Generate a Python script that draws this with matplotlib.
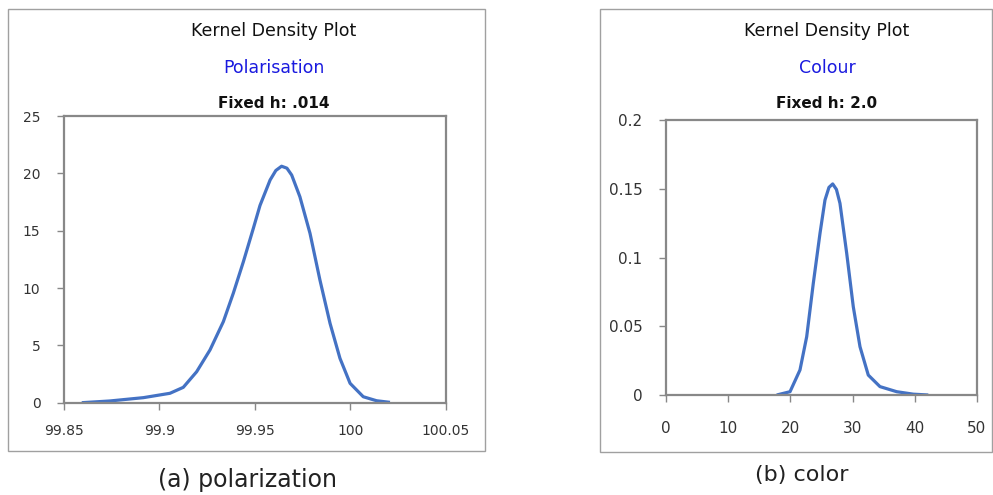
import matplotlib
matplotlib.use("Agg")
import matplotlib.pyplot as plt
from matplotlib.patches import Rectangle

# Polarisation density curve
pol_x = [99.8593, 99.874, 99.8916, 99.9055, 99.9125, 99.9195, 99.9265,
         99.9335, 99.9387, 99.944, 99.9492, 99.9527, 99.958, 99.961,
         99.964, 99.9668, 99.9693, 99.9736, 99.9789, 99.9841, 99.9894,
         99.9946, 99.9999, 100.0068, 100.0138, 100.0208]
pol_y = [0.0, 0.15, 0.44, 0.82, 1.34, 2.70, 4.60,
         7.07, 9.54, 12.30, 15.2, 17.2, 19.42, 20.25,
         20.62, 20.45, 19.85, 17.96, 14.77, 10.70, 6.92,
         3.87, 1.69, 0.52, 0.17, 0.03]

# Colour density curve
col_x = [17.8, 19.94, 21.54, 22.62, 23.68, 24.76, 25.56, 26.2, 26.8, 27.4,
         27.97, 29.05, 30.11, 31.19, 32.52, 34.4, 37.09, 39.76, 42.17]
col_y = [0.0, 0.0024, 0.0182, 0.0424, 0.0812, 0.1176, 0.1418, 0.1510, 0.1535,
         0.1495, 0.1394, 0.1031, 0.0642, 0.0351, 0.0145, 0.0061, 0.0024,
         0.0006, 0.0]

pol_xticks = [99.85, 99.9, 99.95, 100, 100.05]
pol_xlabels = ["99.85", "99.9", "99.95", "100", "100.05"]
pol_yticks = [0, 5, 10, 15, 20, 25]
col_xticks = [0, 10, 20, 30, 40, 50]
col_yticks = [0, 0.05, 0.1, 0.15, 0.2]
col_ylabels = ["0", "0.05", "0.1", "0.15", "0.2"]

line_color = "#4472C4"
gray = "#888888"

fig = plt.figure(figsize=(9.93, 4.95), dpi=100)
W, H = 993.0, 495.0

# outer frames
fig.patches.append(Rectangle((7.5 / W, 44 / H), 477.5 / W, 442 / H,
                             transform=fig.transFigure, fill=False,
                             edgecolor="#a0a0a0", linewidth=1.0))
fig.patches.append(Rectangle((600 / W, 43 / H), 392 / W, 443 / H,
                             transform=fig.transFigure, fill=False,
                             edgecolor="#a0a0a0", linewidth=1.0))


def style_axes(ax):
    for s in ax.spines.values():
        s.set_color(gray)
        s.set_linewidth(1.6)
    ax.tick_params(direction="out", length=5, width=1, color=gray,
                   labelsize=10, labelcolor="#333333", pad=10)
    ax.tick_params(axis="y", pad=12)


ax1 = fig.add_axes([64 / W, 92.3 / H, 381.7 / W, 286.7 / H])
ax1.plot(pol_x, pol_y, color=line_color, linewidth=2.3,
         solid_capstyle="butt", solid_joinstyle="round")
ax1.set_xlim(99.85, 100.05)
ax1.set_ylim(0, 25)
ax1.set_xticks(pol_xticks)
ax1.set_xticklabels(pol_xlabels)
ax1.set_yticks(pol_yticks)
style_axes(ax1)

ax2 = fig.add_axes([666 / W, 100 / H, 311 / W, 275 / H])
ax2.plot(col_x, col_y, color=line_color, linewidth=2.3,
         solid_capstyle="butt", solid_joinstyle="round")
ax2.set_xlim(0, 50)
ax2.set_ylim(0, 0.2)
ax2.set_xticks(col_xticks)
ax2.set_yticks(col_yticks)
ax2.set_yticklabels(col_ylabels)
style_axes(ax2)
ax2.tick_params(labelsize=11)
ax2.tick_params(axis="x", pad=14)


# titles
def titles(xc, name, h):
    fig.text(xc / W, 1 - 31 / H, "Kernel Density Plot", ha="center",
             va="center", fontsize=12.5, color="#111111")
    fig.text(xc / W, 1 - 68 / H, name, ha="center", va="center",
             fontsize=12.5, color="#1a1adf")
    fig.text(xc / W, 1 - 104 / H, h, ha="center", va="center",
             fontsize=11, color="#111111", fontweight="bold")


titles(274, "Polarisation", "Fixed h: .014")
titles(827, "Colour", "Fixed h: 2.0")

fig.text(247 / W, 1 - 480 / H, "(a) polarization", ha="center", va="center",
         fontsize=17, color="#222222")
fig.text(802 / W, 1 - 475 / H, "(b) color", ha="center", va="center",
         fontsize=16, color="#222222")

fig.savefig("out.png", dpi=100)
